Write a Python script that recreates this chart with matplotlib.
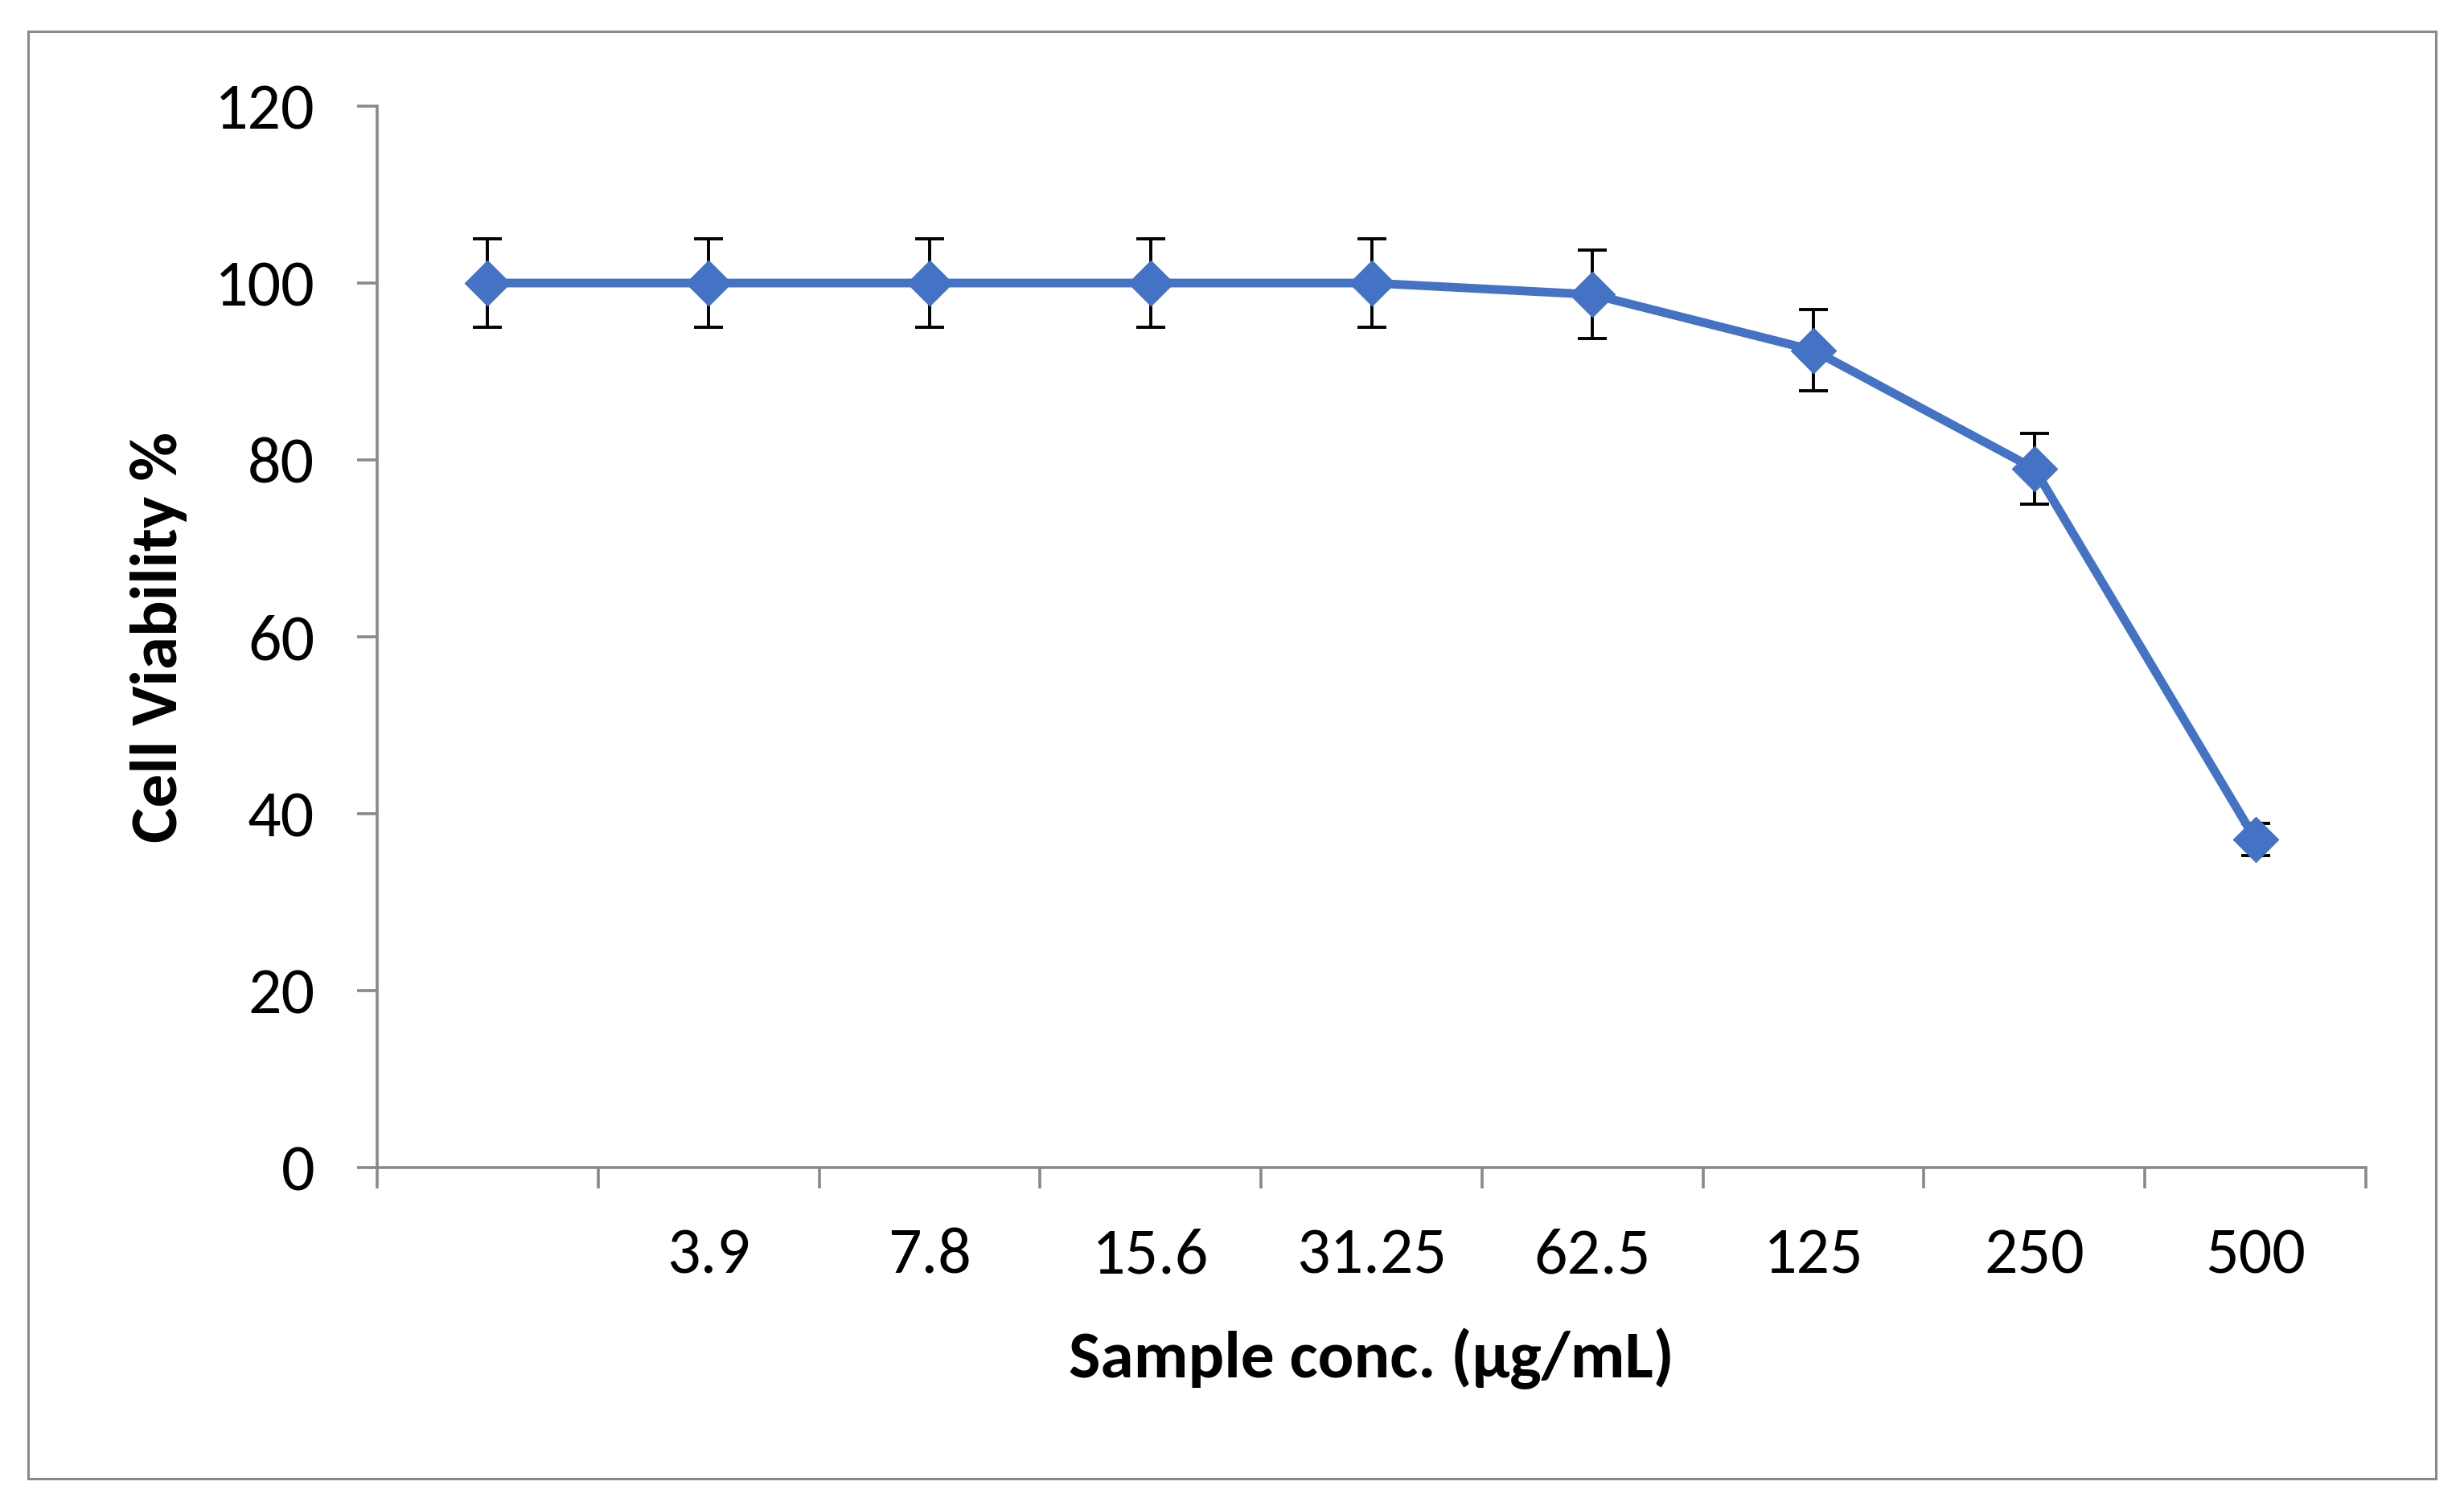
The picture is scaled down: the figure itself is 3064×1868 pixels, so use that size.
import matplotlib
matplotlib.use('Agg')
import matplotlib.pyplot as plt
from matplotlib import font_manager
from matplotlib.patches import Rectangle

# ---- data ----
categories = ['', '3.9', '7.8', '15.6', '31.25', '62.5', '125', '250', '500']
viability = [100, 100, 100, 100, 100, 98.7, 92.4, 79.0, 37.1]
errors = [5.0, 5.0, 5.0, 5.0, 5.0, 5.0, 4.6, 4.0, 1.8]
y_ticks = [0, 20, 40, 60, 80, 100, 120]
x_label = 'Sample conc. (µg/mL)'
y_label = 'Cell Viability %'

# ---- fonts ----
avail = {f.name for f in font_manager.fontManager.ttflist}
family = next((f for f in ['Carlito', 'Calibri', 'Lato', 'DejaVu Sans'] if f in avail), 'DejaVu Sans')
plt.rcParams['font.family'] = [family, 'DejaVu Sans']

W, H = 3064, 1868
fig = plt.figure(figsize=(W / 200, H / 200), dpi=200)

# outer chart border
fig.patches.append(Rectangle((35 / W, 1 - 1839 / H), 2994 / W, 1800 / H,
                             transform=fig.transFigure, fill=False,
                             edgecolor='#898989', linewidth=1.1))

ax = fig.add_axes([469 / W, 1 - 1452 / H, 2473 / W, 1320 / H])

x = list(range(len(categories)))
ax.errorbar(x, viability, yerr=errors, fmt='none', ecolor='black',
            elinewidth=1.4, capsize=6.5, capthick=1.4, zorder=2)
ax.plot(x, viability, color='#4472C4', lw=3.9, marker='D', ms=13.5,
        mfc='#4472C4', mec='#4472C4', mew=1, zorder=3, clip_on=False)

ax.set_xlim(-0.5, len(categories) - 0.5)
ax.set_ylim(0, 120)
ax.set_yticks(y_ticks)

ax.set_xticks([i - 0.5 for i in range(len(categories) + 1)])
ax.set_xticklabels([])
ax.set_xticks(x, minor=True)
ax.set_xticklabels(categories, minor=True)

gray = '#898989'
ax.tick_params(axis='x', which='major', direction='out', length=9.4, width=1.3, color=gray)
ax.tick_params(axis='x', which='minor', length=0, pad=27, labelsize=29.5)
ax.tick_params(axis='y', direction='out', length=9, width=1.3, color=gray,
               pad=19, labelsize=29.5)

for s in ['top', 'right']:
    ax.spines[s].set_visible(False)
for s in ['left', 'bottom']:
    ax.spines[s].set_color(gray)
    ax.spines[s].set_linewidth(1.3)

ax.set_xlabel(x_label, fontsize=30, fontweight='bold', va='baseline')
ax.xaxis.set_label_coords(0.5, (1452 - 1713) / 1320)
ax.set_ylabel(y_label, fontsize=30, fontweight='bold', va='center', ha='center')
ax.yaxis.set_label_coords((197.5 - 469) / 2473, 0.5)

fig.savefig('out.png', dpi=200)
